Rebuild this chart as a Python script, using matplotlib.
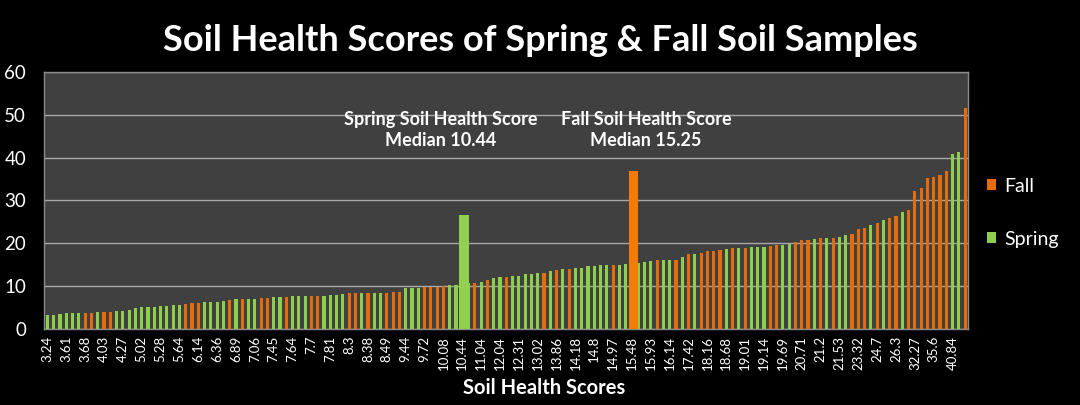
import matplotlib
matplotlib.use("Agg")
import matplotlib.pyplot as plt
from matplotlib.patches import Patch
import numpy as np

# ---- data (sorted soil health scores, one per sample) ----
scores = [
    3.24, 3.30, 3.45, 3.61, 3.62, 3.65, 3.68, 3.70, 3.90, 4.03,
    4.05, 4.10, 4.27, 4.50, 4.80, 5.02, 5.05, 5.15, 5.28, 5.40,
    5.50, 5.64, 5.80, 6.00, 6.14, 6.20, 6.25, 6.36, 6.50, 6.70,
    6.89, 6.95, 7.00, 7.06, 7.10, 7.30, 7.45, 7.50, 7.55, 7.64,
    7.66, 7.68, 7.70, 7.74, 7.78, 7.81, 8.00, 8.20, 8.30, 8.32,
    8.35, 8.38, 8.42, 8.45, 8.49, 8.50, 8.70, 9.44, 9.50, 9.60,
    9.72, 9.75, 9.80, 10.08, 10.20, 10.35, 10.44, 10.60, 10.80, 11.04,
    11.40, 11.90, 12.04, 12.20, 12.25, 12.31, 12.80, 12.90, 13.02, 13.10,
    13.50, 13.86, 13.90, 14.00, 14.18, 14.25, 14.60, 14.80, 14.85, 14.90,
    14.97, 15.00, 15.20, 15.48, 15.50, 15.60, 15.93, 16.00, 16.10, 16.14,
    16.20, 16.90, 17.42, 17.60, 17.80, 18.16, 18.30, 18.50, 18.68, 18.80,
    18.90, 19.01, 19.05, 19.10, 19.14, 19.40, 19.50, 19.69, 19.80, 20.20,
    20.71, 20.80, 21.00, 21.20, 21.30, 21.30, 21.53, 21.90, 22.20, 23.32,
    23.50, 24.20, 24.70, 25.50, 26.00, 26.30, 27.40, 27.70, 32.27, 32.90,
    35.20, 35.60, 36.00, 37.00, 40.84, 41.40, 51.70,
]
# season of each sample: F = Fall, S = Spring
seasons = (
    "SSSSSSFFSFFSSSSSSSSSSSFFF"
    "SSSSFSFSSFFSSFSSSFFSSSSFF"
    "SFSSFFFSSSFFFFSSSSFSFSSF"
    "SSSSSFSFSFSSSSSSFSSFSSSFS"
    "SFSFSFFFFSFSFSSSFFSSFFFS"
    "FSFSSFFFSFSFFSFFFFFFFSSF"
)
tick_labels = [
    "3.24", "3.61", "3.68", "4.03", "4.27", "5.02", "5.28", "5.64", "6.14",
    "6.36", "6.89", "7.06", "7.45", "7.64", "7.7", "7.81", "8.3", "8.38",
    "8.49", "9.44", "9.72", "10.08", "10.44", "11.04", "12.04", "12.31",
    "13.02", "13.86", "14.18", "14.8", "14.97", "15.48", "15.93", "16.14",
    "17.42", "18.16", "18.68", "19.01", "19.14", "19.69", "20.71", "21.2",
    "21.53", "23.32", "24.7", "26.3", "32.27", "35.6", "40.84",
]
# median marker bars
median_labels = ["Spring Soil Health Score\nMedian 10.44",
                 "Fall Soil Health Score\nMedian 15.25"]
median_index = [66, 93]
median_height = [26.7, 37.0]
median_season = ["S", "F"]

# ---- style ----
GREEN = "#8dcf4c"
ORANGE = "#e46c0a"
MED_GREEN = "#92d050"
MED_ORANGE = "#f47b06"
BG = "#000000"
PLOT_BG = "#404040"
GRID = "#a8a8a8"
FONT = ["Lato", "DejaVu Sans"]
plt.rcParams["font.family"] = FONT

fig = plt.figure(figsize=(10.8, 4.05), dpi=100, facecolor=BG)
ax = fig.add_axes([0.041, 0.188, 0.855, 0.634])
ax.set_facecolor(PLOT_BG)

n = len(scores)
x = np.arange(n)
colors = [ORANGE if s == "F" else GREEN for s in seasons[:n]]
ax.bar(x, scores, width=0.5, color=colors, zorder=3, linewidth=0)

for idx, h, s in zip(median_index, median_height, median_season):
    ax.bar(idx + 0.25, h, width=1.55,
           color=MED_ORANGE if s == "F" else MED_GREEN, zorder=4, linewidth=0)

ax.set_xlim(-0.5, n - 0.6)
ax.set_ylim(0, 60)
ax.set_yticks(range(0, 61, 10))
ax.yaxis.grid(True, color=GRID, linewidth=1.0, zorder=1)
ax.set_axisbelow(True)

ax.set_xticks(x[::3])
ax.set_xticklabels(tick_labels, rotation=90, fontsize=9.5, color="white")
ax.tick_params(axis="x", length=0, pad=5)
ax.tick_params(axis="y", length=0, pad=13, labelsize=13.5, labelcolor="white")

for sp in ax.spines.values():
    sp.set_color("#8a8a8a")
    sp.set_linewidth(1.0)

ax.set_xlabel("Soil Health Scores", color="white", fontsize=14.5,
              fontweight="bold")
ax.xaxis.set_label_coords(0.541, -0.23)
ax.xaxis.label.set_verticalalignment("center")

# median annotations
ax.text(62.6, 46.5, median_labels[0], ha="center", va="center",
        color="white", fontsize=13, fontweight="bold", linespacing=1.3, zorder=5)
ax.text(95.2, 46.5, median_labels[1], ha="center", va="center",
        color="white", fontsize=13, fontweight="bold", linespacing=1.3, zorder=5)

fig.suptitle("Soil Health Scores of Spring & Fall Soil Samples", color="white",
             fontsize=26, fontweight="bold", y=0.94)

handles = [Patch(facecolor=ORANGE, label="Fall"),
           Patch(facecolor=GREEN, label="Spring")]
fig.legend(handles=handles, loc="center left", bbox_to_anchor=(0.898, 0.475),
           frameon=False, fontsize=14, labelcolor="white",
           handlelength=0.45, handleheight=0.45, handletextpad=0.4,
           labelspacing=1.85)

fig.savefig("out.png", dpi=100, facecolor=BG)
